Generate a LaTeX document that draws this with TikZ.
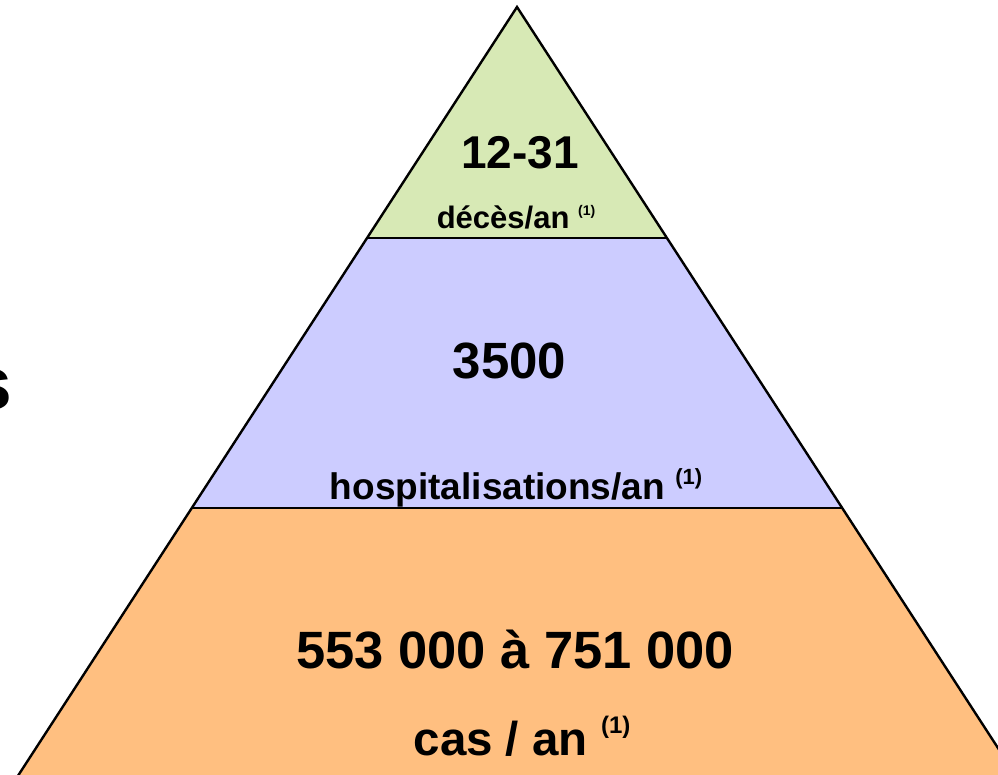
\documentclass[tikz,border=0pt]{standalone}
\usepackage{fontspec}
\setmainfont{Liberation Sans}
\begin{document}
\begin{tikzpicture}[x=1pt,y=-1pt,
  level/.style={draw=black,line width=2.4pt,line join=miter},
  big/.style={anchor=base,inner sep=0pt},
  lab/.style={anchor=base,inner sep=0pt}]
\useasboundingbox (0,0) rectangle (998,775);
\clip (0,0) rectangle (998,775);
\definecolor{topc}{HTML}{D7E9B5}
\definecolor{midc}{HTML}{CCCCFF}
\definecolor{botc}{HTML}{FFBF80}
\coordinate (A) at (517,7);
\coordinate (L1) at (367,238);
\coordinate (R1) at (667,238);
\coordinate (L2) at (191.5,508);
\coordinate (R2) at (842.5,508);
\coordinate (L3) at (12,785);
\coordinate (R3) at (1022,785);
\fill[botc] (L2) -- (R2) -- (R3) -- (L3) -- cycle;
\fill[midc] (L1) -- (R1) -- (R2) -- (L2) -- cycle;
\fill[topc] (A) -- (R1) -- (L1) -- cycle;
\draw[level] (L3) -- (A) -- (R3);
\draw[level] (L1) -- (R1);
\draw[level] (L2) -- (R2);
\node[big,font=\bfseries\fontsize{46}{46}\selectfont] (n1) at (520,169) {12-31};
\node[lab] (d1) at (516,229) {\bfseries\fontsize{31}{31}\selectfont décès/an \raisebox{0.42em}{\fontsize{14}{14}\selectfont(1)}};
\node[big,font=\bfseries\fontsize{51}{51}\selectfont] (n2) at (509.5,378) {3500};
\node[lab] (d2) at (516,499) {\bfseries\fontsize{37}{37}\selectfont hospitalisations/an \raisebox{0.4em}{\fontsize{22}{22}\selectfont(1)}};
\node[big,font=\bfseries\fontsize{52.5}{52.5}\selectfont] (n3) at (515,668) {553 000 à 751 000};
\node[lab] (d3) at (522,755) {\bfseries\fontsize{47.5}{47.5}\selectfont cas / an \raisebox{0.45em}{\fontsize{24}{24}\selectfont(1)}};
\node[anchor=base east,inner sep=0pt,font=\bfseries\fontsize{75}{75}\selectfont] (s) at (12,409) {s};
\end{tikzpicture}
\end{document}
